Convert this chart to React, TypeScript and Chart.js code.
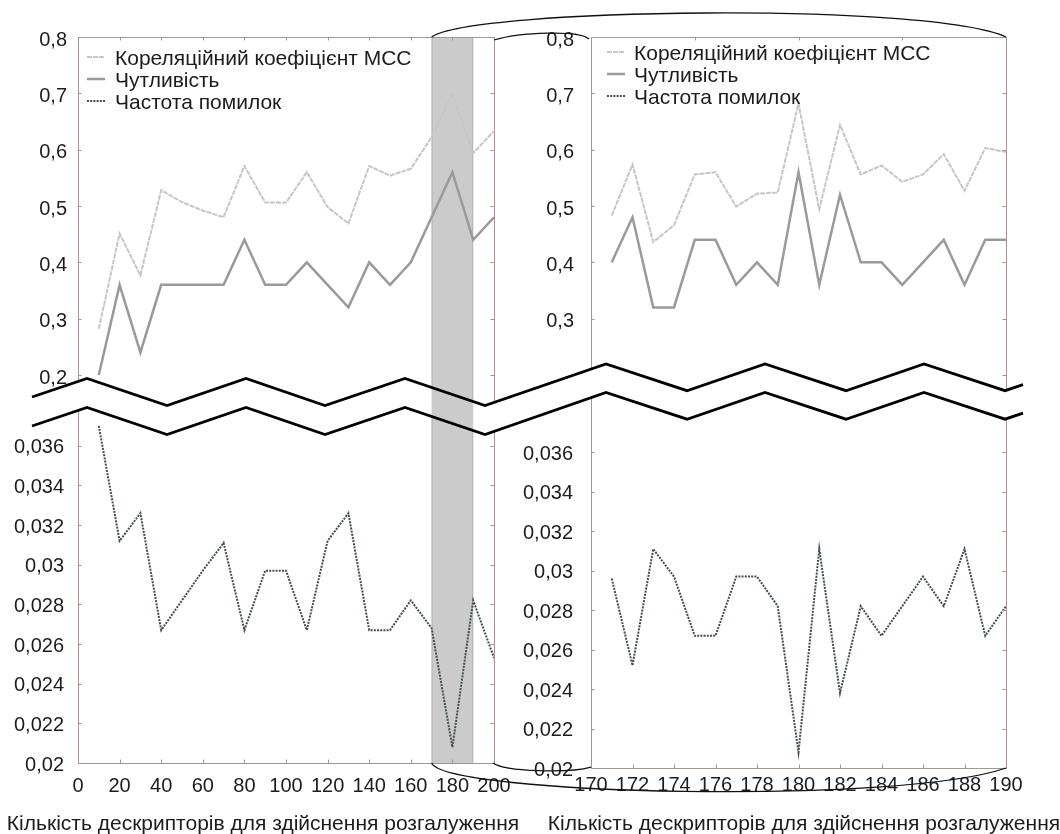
import React, { useEffect, useRef } from 'react';
import { Chart, registerables } from 'chart.js';

Chart.register(...registerables);

// ---------------- data ----------------
const seriesNames = ['Кореляційний коефіцієнт МСС', 'Чутливість', 'Частота помилок'];
const axisTitle = 'Кількість дескрипторів для здійснення розгалуження';

const leftX = [10, 20, 30, 40, 50, 60, 70, 80, 90, 100, 110, 120, 130, 140, 150, 160, 170, 180, 190, 200];
const leftMcc = [0.282, 0.451, 0.377, 0.528, 0.507, 0.492, 0.48, 0.571, 0.506, 0.506, 0.56, 0.498, 0.469, 0.571, 0.554, 0.566, 0.622, 0.699, 0.594, 0.633];
const leftSens = [0.2, 0.36, 0.24, 0.36, 0.36, 0.36, 0.36, 0.44, 0.36, 0.36, 0.4, 0.36, 0.32, 0.4, 0.36, 0.4, 0.48, 0.56, 0.44, 0.48];
const leftErr = [0.037, 0.0312, 0.0326, 0.0267, 0.0282, 0.0297, 0.0311, 0.0267, 0.0297, 0.0297, 0.0267, 0.0312, 0.0326, 0.0267, 0.0267, 0.0282, 0.0268, 0.0208, 0.0282, 0.0253];

const rightX = [171, 172, 173, 174, 175, 176, 177, 178, 179, 180, 181, 182, 183, 184, 185, 186, 187, 188, 189, 190];
const rightMcc = [0.483, 0.574, 0.436, 0.466, 0.556, 0.56, 0.499, 0.522, 0.524, 0.682, 0.494, 0.644, 0.556, 0.572, 0.543, 0.556, 0.592, 0.527, 0.603, 0.596];
const rightSens = [0.4, 0.48, 0.32, 0.32, 0.44, 0.44, 0.36, 0.4, 0.36, 0.56, 0.36, 0.52, 0.4, 0.4, 0.36, 0.4, 0.44, 0.36, 0.44, 0.44];
const rightErr = [0.0296, 0.0252, 0.0311, 0.0297, 0.0267, 0.0267, 0.0297, 0.0297, 0.0282, 0.0208, 0.0311, 0.0238, 0.0282, 0.0267, 0.0282, 0.0297, 0.0282, 0.0311, 0.0267, 0.0282];

const upperTicks = [0.2, 0.3, 0.4, 0.5, 0.6, 0.7, 0.8];
const lowerTicks = [0.02, 0.022, 0.024, 0.026, 0.028, 0.03, 0.032, 0.034, 0.036];
const leftXTicks = [0, 20, 40, 60, 80, 100, 120, 140, 160, 180, 200];
const leftTopTicks = [0, 20, 40, 60, 80, 100, 120, 140, 160, 180, 200];
const rightXTicks = [170, 172, 174, 176, 178, 180, 182, 184, 186, 188, 190];
const rightTopTicks = [175, 180, 185];
const rightHiddenLabels = [0.2];
const bandRange = [170, 190];

// ---------------- styles ----------------
const FONT = '"Liberation Sans", Arial, sans-serif';
const TEXT = '#1c1c1c';
const FRAME = '#a3958f';
const BAND = '#cbcbcb';
const BAND_EDGE = '#b3b3b3';
const lineStyles = [
  { color: '#c6c6c6', width: 2, dash: [5, 1] },
  { color: '#9a9a9a', width: 2.5, dash: [] as number[] },
  { color: '#424e4e', width: 2, dash: [2, 1.2] },
];

const fmt = (v: number) => String(v).replace('.', ',');

type PanelParams = {
  x: number[]; mcc: number[]; sens: number[]; err: number[];
  xMin: number; xMax: number; xTicks: number[]; topTicks: number[];
  padRight: number; padTop: number; yWidth: number; xHeight: number;
  upperH: number; lowerH: number; upperMin: number; lowerMax: number;
  upperPad: number; lowerPad: number; xPad: number;
  hidden: number[];
  legendX: number; legendTextX: number; legendTop: number; legendGap: number;
  band: boolean;
};

function makePlugins(p: PanelParams) {
  const bandPlugin = {
    id: 'bandShade',
    beforeDatasetsDraw(chart: any) {
      if (!p.band) return;
      const { ctx, chartArea: a, scales } = chart;
      const x0 = scales.x.getPixelForValue(bandRange[0]);
      const x1 = scales.x.getPixelForValue(bandRange[1]);
      ctx.save();
      ctx.fillStyle = BAND;
      ctx.fillRect(x0, a.top, x1 - x0, a.bottom - a.top);
      ctx.strokeStyle = BAND_EDGE;
      ctx.lineWidth = 1;
      ctx.beginPath();
      ctx.moveTo(x0 + 0.5, a.top); ctx.lineTo(x0 + 0.5, a.bottom);
      ctx.moveTo(x1 - 0.5, a.top); ctx.lineTo(x1 - 0.5, a.bottom);
      ctx.stroke();
      ctx.restore();
    },
  };
  const framePlugin = {
    id: 'frameTicks',
    afterDraw(chart: any) {
      const { ctx, chartArea: a, scales } = chart;
      const L = 3.5;
      ctx.save();
      ctx.strokeStyle = FRAME;
      ctx.lineWidth = 1;
      ctx.strokeRect(Math.round(a.left) + 0.5, Math.round(a.top) + 0.5, Math.round(a.right - a.left), Math.round(a.bottom - a.top));
      ctx.beginPath();
      for (const id of ['y', 'y2']) {
        const s = scales[id];
        for (const t of s.ticks) {
          const py = Math.round(s.getPixelForValue(t.value)) + 0.5;
          ctx.moveTo(a.left, py); ctx.lineTo(a.left + L, py);
          ctx.moveTo(a.right, py); ctx.lineTo(a.right - L, py);
        }
      }
      for (const v of p.xTicks) {
        const px = Math.round(scales.x.getPixelForValue(v)) + 0.5;
        ctx.moveTo(px, a.bottom); ctx.lineTo(px, a.bottom - L);
      }
      for (const v of p.topTicks) {
        const px = Math.round(scales.x.getPixelForValue(v)) + 0.5;
        ctx.moveTo(px, a.top); ctx.lineTo(px, a.top + L);
      }
      ctx.stroke();
      ctx.restore();
    },
  };
  const legendPlugin = {
    id: 'inlineLegend',
    afterDraw(chart: any) {
      const { ctx, chartArea: a } = chart;
      ctx.save();
      chart.data.datasets.forEach((ds: any, i: number) => {
        const y = a.top + p.legendTop + i * p.legendGap;
        ctx.strokeStyle = ds.borderColor;
        ctx.lineWidth = ds.borderWidth;
        ctx.setLineDash(ds.borderDash || []);
        ctx.beginPath();
        ctx.moveTo(a.left + p.legendX, y - 2);
        ctx.lineTo(a.left + p.legendX + 18, y - 2);
        ctx.stroke();
        ctx.setLineDash([]);
        ctx.fillStyle = TEXT;
        ctx.font = `21px ${FONT}`;
        ctx.textBaseline = 'middle';
        ctx.textAlign = 'left';
        ctx.fillText(ds.label, a.left + p.legendTextX, y);
      });
      ctx.restore();
    },
  };
  return [bandPlugin, framePlugin, legendPlugin];
}

function makeConfig(p: PanelParams): any {
  const series = [p.mcc, p.sens, p.err];
  const datasets = series.map((vals, i) => ({
    label: seriesNames[i],
    data: p.x.map((x, j) => ({ x, y: vals[j] })),
    yAxisID: i === 2 ? 'y2' : 'y',
    borderColor: lineStyles[i].color,
    borderWidth: lineStyles[i].width,
    borderDash: lineStyles[i].dash,
    pointRadius: 0,
    tension: 0,
    fill: false,
  }));
  const tickFont = { family: FONT, size: 20 };
  return {
    type: 'line',
    data: { datasets },
    options: {
      responsive: false,
      animation: false,
      devicePixelRatio: 1,
      events: [],
      layout: { padding: { left: 0, right: p.padRight, top: p.padTop, bottom: 0 } },
      plugins: { legend: { display: false }, tooltip: { enabled: false }, title: { display: false } },
      scales: {
        x: {
          type: 'linear', min: p.xMin, max: p.xMax,
          grid: { display: false, drawTicks: false }, border: { display: false },
          ticks: { padding: p.xPad, font: tickFont, color: TEXT, maxRotation: 0, autoSkip: false, callback: (v: number) => String(v) },
          afterBuildTicks: (s: any) => { s.ticks = p.xTicks.map((v) => ({ value: v })); },
          afterFit: (s: any) => { s.height = p.xHeight; },
        },
        // left-positioned stacked boxes are laid out in reverse order: lower axis first
        y2: {
          type: 'linear', position: 'left', stack: 'panel', stackWeight: p.lowerH,
          min: 0.02, max: p.lowerMax,
          grid: { display: false, drawTicks: false }, border: { display: false },
          ticks: { padding: p.lowerPad, labelOffset: 2, font: tickFont, color: TEXT, autoSkip: false, callback: (v: number) => fmt(v) },
          afterBuildTicks: (s: any) => { s.ticks = lowerTicks.map((v) => ({ value: v })); },
          afterFit: (s: any) => { s.width = p.yWidth; },
        },
        y: {
          type: 'linear', position: 'left', stack: 'panel', stackWeight: p.upperH,
          min: p.upperMin, max: 0.8,
          grid: { display: false, drawTicks: false }, border: { display: false },
          ticks: {
            padding: p.upperPad, labelOffset: 3, font: tickFont, color: TEXT, autoSkip: false,
            callback: (v: number) => (p.hidden.includes(v) ? '' : fmt(v)),
          },
          afterBuildTicks: (s: any) => { s.ticks = upperTicks.map((v) => ({ value: v })); },
          afterFit: (s: any) => { s.width = p.yWidth; },
        },
      },
    },
    plugins: makePlugins(p),
  };
}

// decorative axis-break zigzags (page coordinates)
const zigUpper: [number, number][] = [
  [32, 397], [87, 378.5], [167, 405.5], [246, 378.5], [325, 405.5], [405, 378.5], [485, 405.5],
  [606, 364], [687, 390.7], [765, 364], [846, 390.7], [924, 364], [1005, 390.7], [1023, 384.6],
];
const zigLower: [number, number][] = zigUpper.map(([x, y]) => [x, y + (x <= 485 ? 29 : 28.5)]);

const RIGHT_LEFT = 480;

function drawOverlay(canvas: HTMLCanvasElement, left: any, right: any) {
  const ctx = canvas.getContext('2d')!;
  ctx.clearRect(0, 0, canvas.width, canvas.height);
  const poly = () => {
    ctx.beginPath();
    zigUpper.forEach(([x, y], i) => (i ? ctx.lineTo(x, y) : ctx.moveTo(x, y)));
    for (let i = zigLower.length - 1; i >= 0; i--) ctx.lineTo(zigLower[i][0], zigLower[i][1]);
    ctx.closePath();
  };
  poly();
  ctx.fillStyle = '#ffffff';
  ctx.fill();
  const bx0 = left.scales.x.getPixelForValue(bandRange[0]);
  const bx1 = left.scales.x.getPixelForValue(bandRange[1]);
  ctx.save();
  poly();
  ctx.clip();
  ctx.fillStyle = BAND;
  ctx.fillRect(bx0, 0, bx1 - bx0, canvas.height);
  ctx.restore();
  ctx.save();
  ctx.strokeStyle = '#000';
  ctx.lineWidth = 2.8;
  ctx.lineJoin = 'miter';
  for (const line of [zigUpper, zigLower]) {
    ctx.beginPath();
    line.forEach(([x, y], i) => (i ? ctx.lineTo(x, y) : ctx.moveTo(x, y)));
    ctx.stroke();
  }
  ctx.restore();
  const la = left.chartArea;
  const ra = right.chartArea;
  const rl = ra.left + RIGHT_LEFT;
  const rr = ra.right + RIGHT_LEFT;
  ctx.save();
  ctx.strokeStyle = '#111';
  ctx.lineWidth = 1.3;
  ctx.beginPath();
  ctx.moveTo(bx0, la.top);
  ctx.bezierCurveTo(bx0 + 40, la.top - 29, rr - 76, ra.top - 35, rr, ra.top);
  ctx.moveTo(la.right, la.top + 3);
  ctx.bezierCurveTo(la.right + 26, la.top - 5, rl - 11, ra.top - 7, rl - 2, ra.top + 2);
  ctx.moveTo(bx0, la.bottom);
  ctx.bezierCurveTo(bx0 + 14, la.bottom + 32, rr - 106, ra.bottom + 37, rr, ra.bottom);
  ctx.moveTo(la.right - 1, la.bottom);
  ctx.bezierCurveTo(la.right + 11, la.bottom + 9, rl - 21, ra.bottom + 5, rl, ra.bottom - 1);
  ctx.stroke();
  ctx.restore();
}

const leftParams: PanelParams = {
  x: leftX, mcc: leftMcc, sens: leftSens, err: leftErr,
  xMin: 0, xMax: 200, xTicks: leftXTicks, topTicks: leftTopTicks,
  padRight: 36, padTop: 37, yWidth: 78, xHeight: 71,
  upperH: 369, lowerH: 357, upperMin: 0.8 - 369 / 563.33, lowerMax: 0.02 + 357 / 19831,
  upperPad: 11, lowerPad: 14, xPad: 11,
  hidden: [],
  legendX: 9, legendTextX: 37, legendTop: 22, legendGap: 22,
  band: true,
};

const rightParams: PanelParams = {
  x: rightX, mcc: rightMcc, sens: rightSens, err: rightErr,
  xMin: 170, xMax: 190, xTicks: rightXTicks, topTicks: rightTopTicks,
  padRight: 54, padTop: 37, yWidth: 111, xHeight: 66,
  upperH: 357, lowerH: 374, upperMin: 0.8 - 357 / 563.33, lowerMax: 0.02 + 374 / 19731,
  upperPad: 17, lowerPad: 18, xPad: 5,
  hidden: rightHiddenLabels,
  legendX: 16, legendTextX: 43, legendTop: 17, legendGap: 22,
  band: false,
};

export default function App() {
  const leftRef = useRef<HTMLCanvasElement>(null);
  const rightRef = useRef<HTMLCanvasElement>(null);
  const overRef = useRef<HTMLCanvasElement>(null);

  useEffect(() => {
    const left = new Chart(leftRef.current as HTMLCanvasElement, makeConfig(leftParams));
    const right = new Chart(rightRef.current as HTMLCanvasElement, makeConfig(rightParams));
    drawOverlay(overRef.current as HTMLCanvasElement, left, right);
    return () => {
      left.destroy();
      right.destroy();
    };
  }, []);

  const titleStyle: React.CSSProperties = {
    position: 'absolute', top: 811, width: 560, height: 24, lineHeight: '24px',
    textAlign: 'center', fontFamily: FONT, fontSize: 21, color: TEXT, whiteSpace: 'nowrap',
  };

  return (
    <div style={{ position: 'absolute', left: 0, top: 0, width: 1060, height: 834, background: '#fff', overflow: 'hidden' }}>
      <canvas ref={leftRef} width={530} height={834} style={{ position: 'absolute', left: 0, top: 0, width: 530, height: 834 }} />
      <canvas ref={rightRef} width={580} height={834} style={{ position: 'absolute', left: RIGHT_LEFT, top: 0, width: 580, height: 834 }} />
      <canvas ref={overRef} width={1060} height={834} style={{ position: 'absolute', left: 0, top: 0, width: 1060, height: 834, pointerEvents: 'none' }} />
      <div style={{ ...titleStyle, left: 263 - 280 }}>{axisTitle}</div>
      <div style={{ ...titleStyle, left: 804 - 280 }}>{axisTitle}</div>
    </div>
  );
}
